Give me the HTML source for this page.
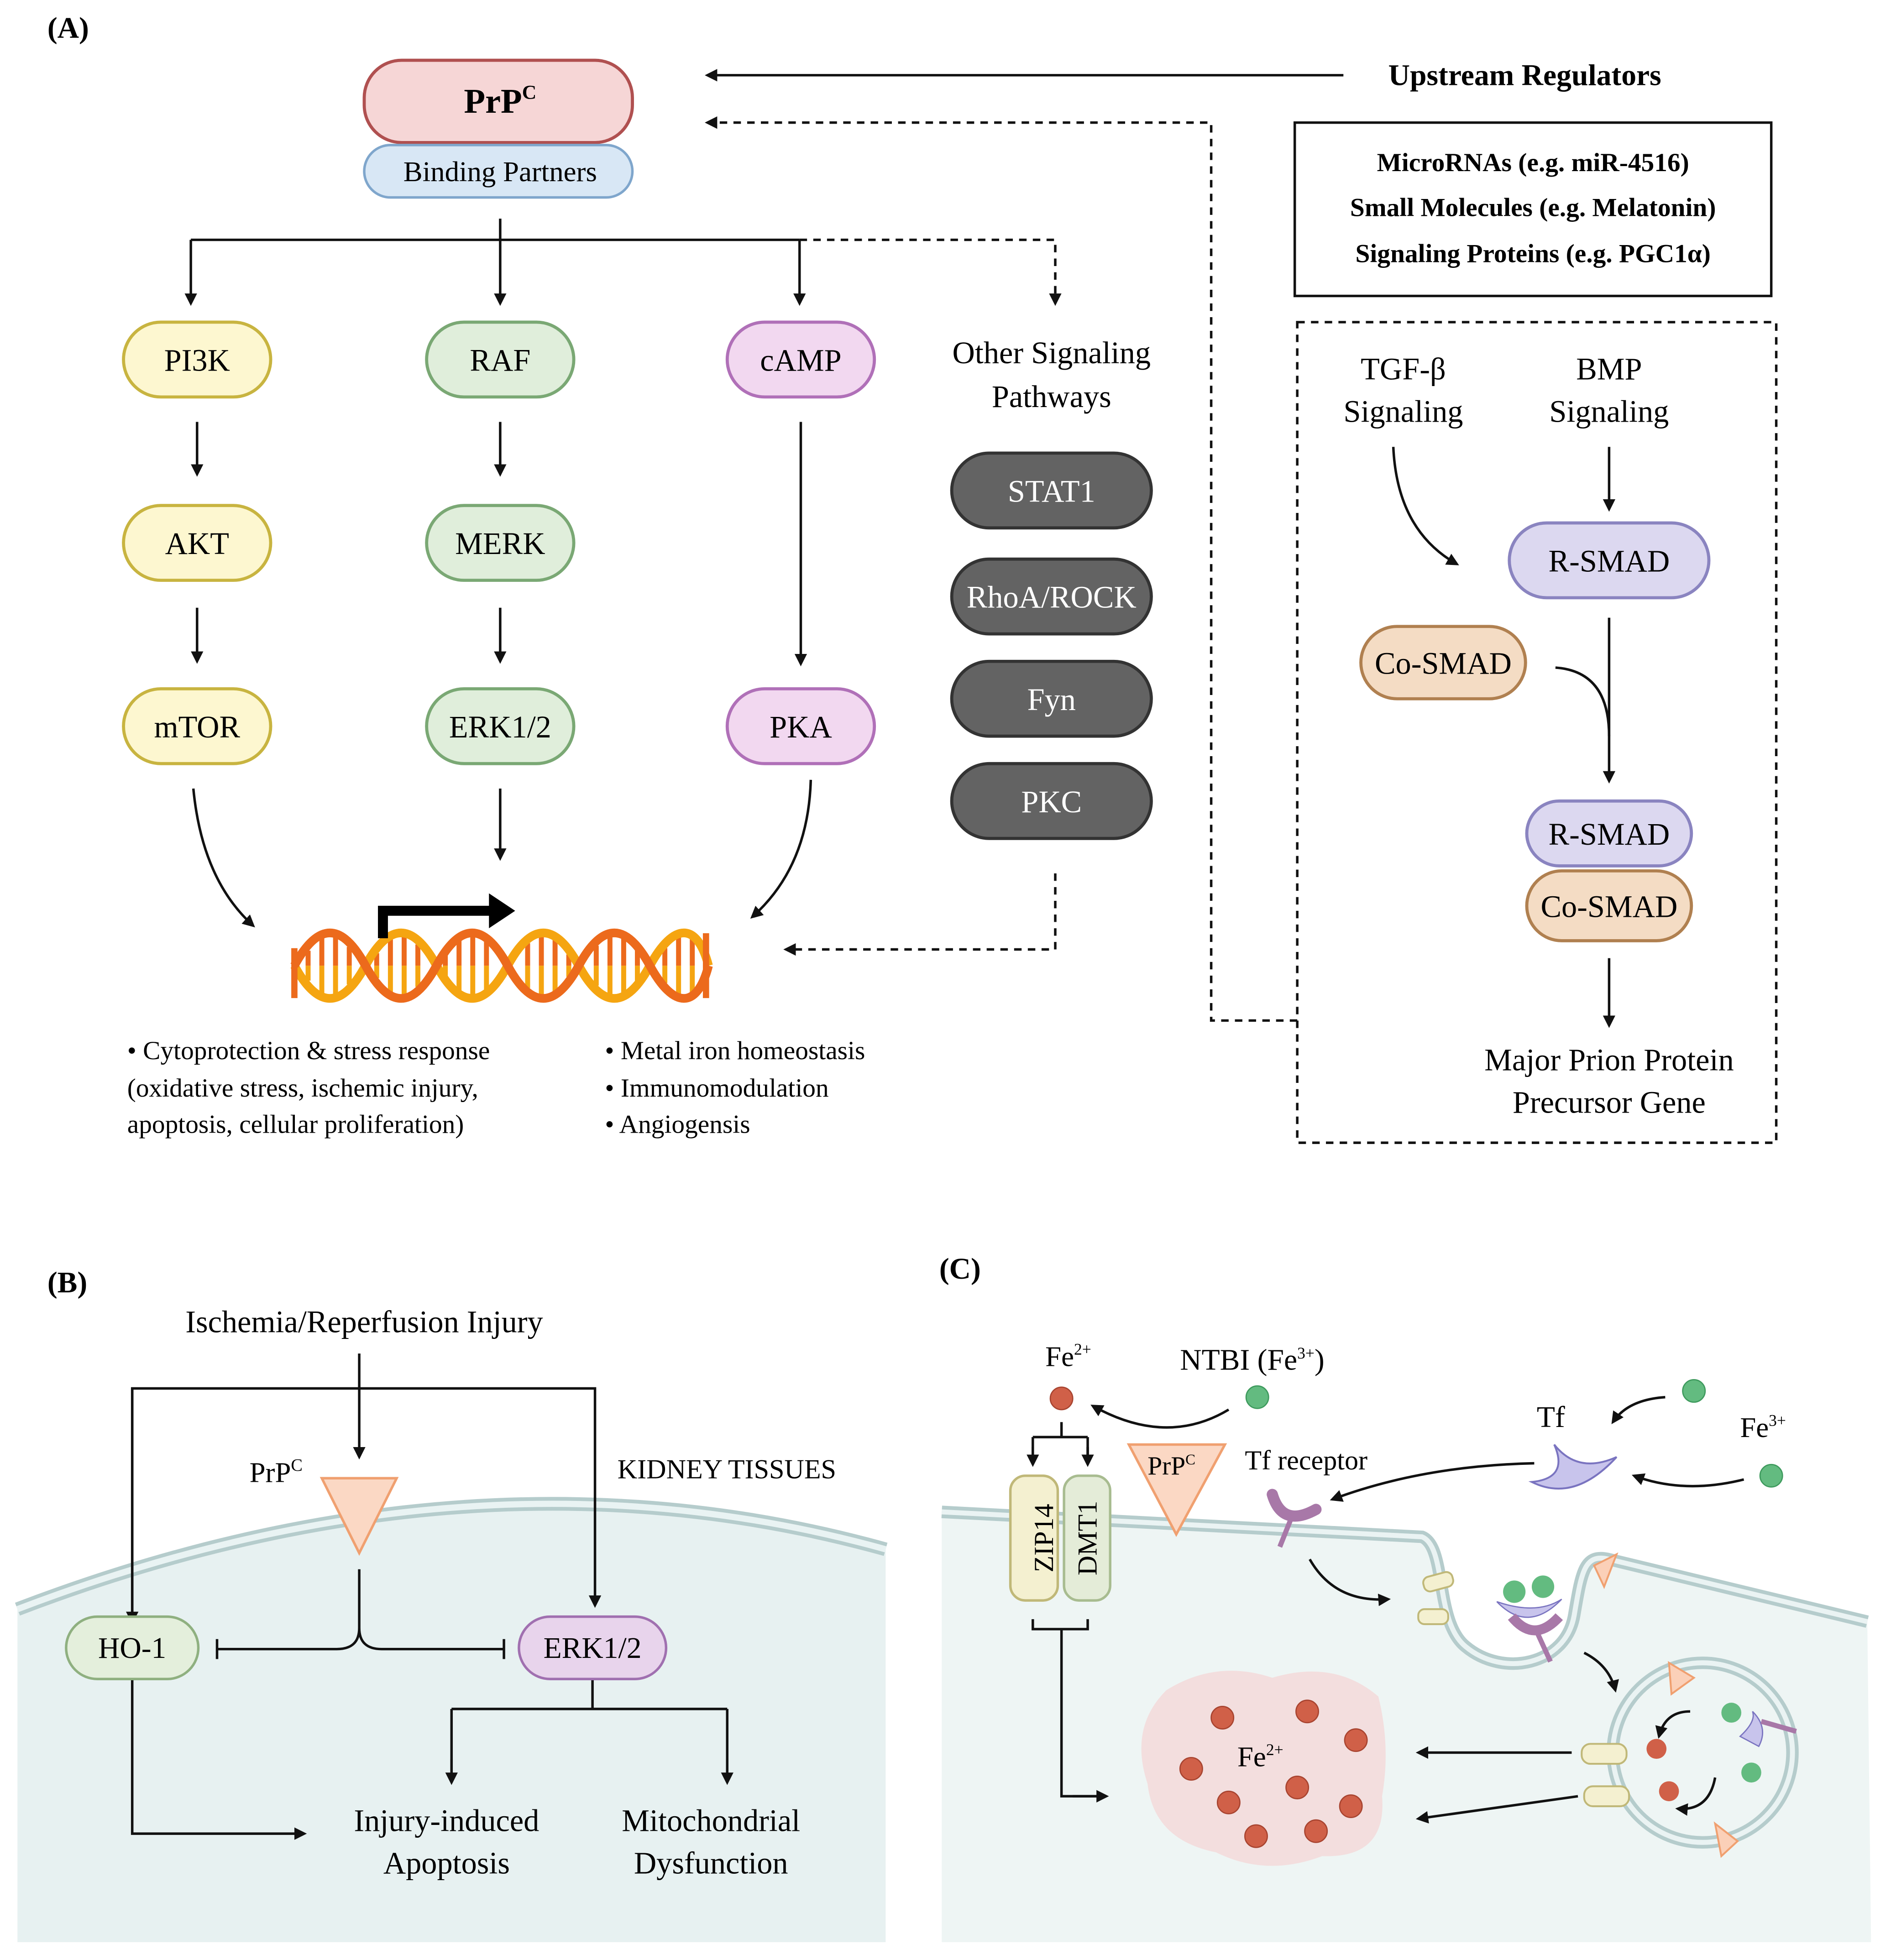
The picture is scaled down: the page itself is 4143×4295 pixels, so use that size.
<!DOCTYPE html>
<html><head><meta charset="utf-8"><style>html,body{margin:0;padding:0;background:#fff}svg{display:block}svg text{font-family:"Liberation Serif","Times New Roman",serif}</style></head>
<body>
<svg width="4143" height="4295" viewBox="0 0 1516 1571" xmlns="http://www.w3.org/2000/svg" style="font-family:'Liberation Serif',serif">
<defs>
<marker id="ah" markerWidth="10" markerHeight="10" refX="8" refY="5" orient="auto" markerUnits="userSpaceOnUse"><path d="M0,0 L10,5 L0,10 Z" fill="#111"/></marker>
</defs>
<rect width="1516" height="1571" fill="#fff"/>
<g fill="none" stroke="#111" stroke-width="2">
<path d="M401,175 V192 M153,192 H641"/>
<path d="M153,192 V243" marker-end="url(#ah)"/><path d="M401,192 V243" marker-end="url(#ah)"/><path d="M641,192 V243" marker-end="url(#ah)"/>
<path d="M641,192 H846 V243" stroke-dasharray="6,5" marker-end="url(#ah)"/>
<path d="M158,338 V380" marker-end="url(#ah)"/><path d="M158,487 V530" marker-end="url(#ah)"/>
<path d="M401,338 V380" marker-end="url(#ah)"/><path d="M401,487 V530" marker-end="url(#ah)"/>
<path d="M642,338 V532" marker-end="url(#ah)"/>
<path d="M155,632 Q162,705 203,742" marker-end="url(#ah)"/>
<path d="M401,632 V688" marker-end="url(#ah)"/>
<path d="M650,625 Q648,695 603,735" marker-end="url(#ah)"/>
<path d="M846,700 V761 H630" stroke-dasharray="6,5" marker-end="url(#ah)"/>
<path d="M1077,60 H567" marker-end="url(#ah)"/>
<path d="M1040,818 H971 V98 H567" stroke-dasharray="6,5" marker-end="url(#ah)"/>
<rect x="1038" y="98" width="382" height="139" stroke-width="2"/>
<rect x="1040" y="258" width="384" height="658" stroke-dasharray="6,5"/>
<path d="M1117,358 Q1120,425 1168,452" marker-end="url(#ah)"/>
<path d="M1290,358 V408" marker-end="url(#ah)"/>
<path d="M1290,495 V626" marker-end="url(#ah)"/>
<path d="M1247,535 Q1290,538 1290,590"/>
<path d="M1290,768 V822" marker-end="url(#ah)"/>
</g>
<rect x="292" y="48" width="215" height="66" rx="30" fill="#f6d6d6" stroke="#b05050" stroke-width="2.5"/>
<rect x="292" y="116" width="215" height="42" rx="21" fill="#d8e7f5" stroke="#7fa6cc" stroke-width="2"/>
<text x="401" y="90" font-size="28" font-weight="bold" text-anchor="middle">PrP<tspan font-size="16" dy="-11">C</tspan></text>
<text x="401" y="145" font-size="23" text-anchor="middle">Binding Partners</text>
<g stroke-width="2.5" font-size="25" text-anchor="middle">
<rect x="99" y="258" width="118" height="60" rx="30" fill="#fdf7d0" stroke="#c8b440"/>
<rect x="99" y="405" width="118" height="60" rx="30" fill="#fdf7d0" stroke="#c8b440"/>
<rect x="99" y="552" width="118" height="60" rx="30" fill="#fdf7d0" stroke="#c8b440"/>
<rect x="342" y="258" width="118" height="60" rx="30" fill="#e0eedb" stroke="#7aa874"/>
<rect x="342" y="405" width="118" height="60" rx="30" fill="#e0eedb" stroke="#7aa874"/>
<rect x="342" y="552" width="118" height="60" rx="30" fill="#e0eedb" stroke="#7aa874"/>
<rect x="583" y="258" width="118" height="60" rx="30" fill="#f2d8f0" stroke="#b070b8"/>
<rect x="583" y="552" width="118" height="60" rx="30" fill="#f2d8f0" stroke="#b070b8"/>
<text x="158" y="297">PI3K</text><text x="158" y="444">AKT</text><text x="158" y="591">mTOR</text>
<text x="401" y="297">RAF</text><text x="401" y="444">MERK</text><text x="401" y="591">ERK1/2</text>
<text x="642" y="297">cAMP</text><text x="642" y="591">PKA</text>
<rect x="763" y="363" width="160" height="60" rx="30" fill="#636363" stroke="#333"/>
<rect x="763" y="448" width="160" height="60" rx="30" fill="#636363" stroke="#333"/>
<rect x="763" y="530" width="160" height="60" rx="30" fill="#636363" stroke="#333"/>
<rect x="763" y="612" width="160" height="60" rx="30" fill="#636363" stroke="#333"/>
<g fill="#fff"><text x="843" y="402">STAT1</text><text x="843" y="487">RhoA/ROCK</text><text x="843" y="569">Fyn</text><text x="843" y="651">PKC</text></g>
<text x="843" y="291">Other Signaling</text><text x="843" y="326">Pathways</text>
<text x="1125" y="304">TGF-β</text><text x="1125" y="338">Signaling</text>
<text x="1290" y="304">BMP</text><text x="1290" y="338">Signaling</text>
<rect x="1210" y="419" width="160" height="60" rx="30" fill="#dcd8f0" stroke="#8a84c0"/>
<text x="1290" y="458">R-SMAD</text>
<rect x="1091" y="502" width="132" height="58" rx="29" fill="#f4dcc4" stroke="#b08050"/>
<text x="1157" y="540">Co-SMAD</text>
<rect x="1224" y="642" width="132" height="52" rx="26" fill="#dcd8f0" stroke="#8a84c0"/>
<text x="1290" y="677">R-SMAD</text>
<rect x="1224" y="698" width="132" height="56" rx="28" fill="#f4dcc4" stroke="#b08050"/>
<text x="1290" y="735">Co-SMAD</text>
<text x="1290" y="858">Major Prion Protein</text><text x="1290" y="892">Precursor Gene</text>
</g>
<text x="38" y="30" font-size="24" font-weight="bold">(A)</text>
<text x="1113" y="68" font-size="24" font-weight="bold">Upstream Regulators</text>
<g font-size="21" font-weight="bold" text-anchor="middle">
<text x="1229" y="137">MicroRNAs (e.g. miR-4516)</text>
<text x="1229" y="173">Small Molecules (e.g. Melatonin)</text>
<text x="1229" y="210">Signaling Proteins (e.g. PGC1α)</text>
</g>
<g stroke-width="4">
<g stroke="#ec6a1c">
<path d="M247,762V774M258,752V774M269,751V774M280,759V774M302,764V774M313,753V774M324,750V774M335,757V774M357,766V774M368,754V774M379,750V774M390,755V774M423,756V774M434,750V774M445,753V774M456,765V774M478,758V774M489,750V774M500,752V774M511,762V774M533,760V774M544,751V774M555,751V774"/>
</g>
<g stroke="#f5a511">
<path d="M247,786V774M258,796V774M269,797V774M280,789V774M302,784V774M313,795V774M324,798V774M335,791V774M357,782V774M368,794V774M379,798V774M390,793V774M423,792V774M434,798V774M445,795V774M456,783V774M478,790V774M489,798V774M500,796V774M511,786V774M533,788V774M544,797V774M555,797V774"/>
</g>
</g>
<path d="M236,774 C255,809 274,809 293,774 S331,739 350,774 S388,809 407,774 S445,739 464,774 S502,809 521,774 S559,739 568,774" fill="none" stroke="#f5a511" stroke-width="7"/>
<path d="M236,774 C255,739 274,739 293,774 S331,809 350,774 S388,739 407,774 S445,809 464,774 S502,739 521,774 S559,809 568,774" fill="none" stroke="#ec6a1c" stroke-width="7"/>
<path d="M236,760V800M566,748V800" stroke="#ec6a1c" stroke-width="5"/>
<path d="M307,752 V730 H395" fill="none" stroke="#000" stroke-width="8"/>
<path d="M392,716 L413,730 L392,744 Z" fill="#000"/>
<g font-size="21">
<text x="102" y="849">• Cytoprotection &amp; stress response</text>
<text x="102" y="879">(oxidative stress, ischemic injury,</text>
<text x="102" y="908">apoptosis, cellular proliferation)</text>
<text x="485" y="849">• Metal iron homeostasis</text>
<text x="485" y="879">• Immunomodulation</text>
<text x="485" y="908">• Angiogensis</text>
</g>
<path d="M14,1290 Q380,1150 710,1242 L710,1557 L14,1557 Z" fill="#e7f1f1"/>
<path d="M14,1290 Q380,1150 710,1242" fill="none" stroke="#b5cccc" stroke-width="11"/>
<path d="M14,1290 Q380,1150 710,1242" fill="none" stroke="#e9f3f3" stroke-width="5"/>
<text x="38" y="1036" font-size="24" font-weight="bold">(B)</text>
<text x="292" y="1068" font-size="25" text-anchor="middle">Ischemia/Reperfusion Injury</text>
<g fill="none" stroke="#111" stroke-width="2">
<path d="M288,1085 V1168" marker-end="url(#ah)"/>
<path d="M106,1300 V1113 H477 V1287" marker-end="url(#ah)"/>
<path d="M106,1113 V1300" marker-end="url(#ah)"/>
<path d="M288,1258 V1305 Q288,1322 270,1322 H174 M288,1305 Q288,1322 306,1322 H404 M174,1314 V1330 M404,1314 V1330"/>
<path d="M106,1345 V1470 H244" marker-end="url(#ah)"/>
<path d="M475,1345 V1370 M362,1370 H583 M362,1370 V1429 M583,1370 V1429"/>
<path d="M362,1410 V1429" marker-end="url(#ah)"/><path d="M583,1410 V1429" marker-end="url(#ah)"/>
</g>
<polygon points="258,1185 318,1185 288,1245" fill="#fbd8c4" stroke="#f0a070" stroke-width="2"/>
<text x="200" y="1188" font-size="23">PrP<tspan font-size="14" dy="-9">C</tspan></text>
<text x="495" y="1185" font-size="22">KIDNEY TISSUES</text>
<rect x="53" y="1296" width="106" height="50" rx="25" fill="#e4efdc" stroke="#8fb080" stroke-width="2"/>
<text x="106" y="1329" font-size="24" text-anchor="middle">HO-1</text>
<rect x="416" y="1296" width="118" height="50" rx="25" fill="#e8d4ec" stroke="#a070b0" stroke-width="2"/>
<text x="475" y="1329" font-size="24" text-anchor="middle">ERK1/2</text>
<g font-size="25" text-anchor="middle">
<text x="358" y="1468">Injury-induced</text><text x="358" y="1502">Apoptosis</text>
<text x="570" y="1468">Mitochondrial</text><text x="570" y="1502">Dysfunction</text>
</g>
<path d="M755,1212 L1140,1232 C1160,1240 1150,1300 1175,1320 C1205,1345 1255,1335 1262,1295 C1268,1260 1270,1245 1290,1250 L1497,1300 L1500,1557 L755,1557 Z" fill="#eef5f4"/>
<path d="M755,1212 L1140,1232 C1160,1240 1150,1300 1175,1320 C1205,1345 1255,1335 1262,1295 C1268,1260 1270,1245 1290,1250 L1497,1300" fill="none" stroke="#b5cccc" stroke-width="10"/>
<path d="M755,1212 L1140,1232 C1160,1240 1150,1300 1175,1320 C1205,1345 1255,1335 1262,1295 C1268,1260 1270,1245 1290,1250 L1497,1300" fill="none" stroke="#eaf3f3" stroke-width="4"/>
<circle cx="1365" cy="1405" r="72" fill="none" stroke="#b5cccc" stroke-width="10"/>
<circle cx="1365" cy="1405" r="72" fill="none" stroke="#eaf3f3" stroke-width="4"/>
<text x="753" y="1025" font-size="24" font-weight="bold">(C)</text>
<text x="838" y="1095" font-size="23">Fe<tspan font-size="13" dy="-9">2+</tspan></text>
<text x="946" y="1098" font-size="24">NTBI (Fe<tspan font-size="13" dy="-9">3+</tspan><tspan dy="9">)</tspan></text>
<text x="1232" y="1144" font-size="24">Tf</text>
<text x="1395" y="1152" font-size="23">Fe<tspan font-size="13" dy="-9">3+</tspan></text>
<text x="998" y="1178" font-size="22">Tf receptor</text>
<circle cx="851" cy="1121" r="9" fill="#d06048" stroke="#a84430"/>
<g fill="#63bb80" stroke="#3e9a5d" stroke-width="1">
<circle cx="1008" cy="1120" r="9"/><circle cx="1358" cy="1115" r="9"/><circle cx="1420" cy="1183" r="9"/>
</g>
<g fill="none" stroke="#111" stroke-width="2">
<path d="M985,1130 Q935,1160 876,1127" marker-end="url(#ah)"/>
<path d="M851,1140 V1152 M828,1152 H872 M828,1152 V1174 M872,1152 V1174"/>
<path d="M828,1160 V1174" marker-end="url(#ah)"/><path d="M872,1160 V1174" marker-end="url(#ah)"/>
<path d="M1335,1120 Q1305,1122 1293,1140" marker-end="url(#ah)"/>
<path d="M1398,1186 Q1350,1198 1310,1183" marker-end="url(#ah)"/>
<path d="M1230,1173 Q1140,1175 1068,1202" marker-end="url(#ah)"/>
<path d="M1050,1250 Q1070,1285 1113,1282" marker-end="url(#ah)"/>
<path d="M1270,1325 Q1290,1335 1295,1355" marker-end="url(#ah)"/>
<path d="M828,1298 V1306 H872 V1298 M851,1306 V1440 H887"/>
<path d="M860,1440 H887" marker-end="url(#ah)"/>
<path d="M1260,1405 H1137" marker-end="url(#ah)"/>
<path d="M1265,1440 L1137,1458" marker-end="url(#ah)"/>
<path d="M1355,1372 Q1335,1372 1330,1392" marker-end="url(#ah)"/>
<path d="M1375,1425 Q1370,1452 1345,1450" marker-end="url(#ah)"/>
</g>
<rect x="810" y="1183" width="38" height="100" rx="12" fill="#f4f0d0" stroke="#c0b878" stroke-width="2"/>
<rect x="853" y="1183" width="37" height="100" rx="12" fill="#e4ecd8" stroke="#a8bc90" stroke-width="2"/>
<text transform="translate(837,1233) rotate(-90)" font-size="22" text-anchor="middle" dominant-baseline="central">ZIP14</text>
<text transform="translate(872,1233) rotate(-90)" font-size="22" text-anchor="middle" dominant-baseline="central">DMT1</text>
<polygon points="905,1158 982,1158 943,1230" fill="#fbd8c4" stroke="#f0a070" stroke-width="2"/>
<text x="920" y="1182" font-size="21">PrP<tspan font-size="12" dy="-8">C</tspan></text>
<path d="M1020,1198 Q1028,1225 1055,1210" fill="none" stroke="#a878a8" stroke-width="9" stroke-linecap="round"/>
<path d="M1036,1215 L1026,1240" stroke="#a878a8" stroke-width="4"/>
<path d="M1246,1158 Q1258,1185 1228,1188 Q1262,1205 1296,1168 Q1265,1182 1246,1158 Z" fill="#c8c4ec" stroke="#7a74c0" stroke-width="1.5"/>
<circle cx="1214" cy="1276" r="9" fill="#63bb80"/><circle cx="1237" cy="1272" r="9" fill="#63bb80"/>
<path d="M1200,1284 Q1225,1310 1252,1282 Q1232,1295 1200,1284 Z" fill="#c8c4ec" stroke="#7a74c0"/>
<path d="M1212,1296 Q1230,1318 1250,1296" fill="none" stroke="#a878a8" stroke-width="8"/>
<path d="M1232,1308 L1243,1332" stroke="#a878a8" stroke-width="4"/>
<g fill="#f4f0d0" stroke="#c0b878" stroke-width="1.5">
<rect x="1141" y="1262" width="24" height="12" rx="5" transform="rotate(-15 1153 1268)"/>
<rect x="1137" y="1290" width="24" height="12" rx="5"/>
<rect x="1268" y="1398" width="36" height="16" rx="7"/>
<rect x="1270" y="1432" width="36" height="16" rx="7"/>
</g>
<g fill="#fbd0b8" stroke="#f0a070" stroke-width="1.5">
<polygon points="1278,1255 1296,1246 1286,1272"/>
<polygon points="1338,1333 1358,1345 1340,1358"/>
<polygon points="1375,1462 1393,1476 1380,1488"/>
</g>
<circle cx="1388" cy="1373" r="8" fill="#63bb80"/><circle cx="1404" cy="1421" r="8" fill="#63bb80"/>
<circle cx="1328" cy="1402" r="8" fill="#d06048"/><circle cx="1338" cy="1436" r="8" fill="#d06048"/>
<path d="M1395,1392 Q1408,1380 1405,1372 Q1418,1385 1410,1400 Z" fill="#c8c4ec" stroke="#7a74c0"/>
<path d="M1412,1380 L1440,1388" stroke="#a878a8" stroke-width="4"/>
<path d="M935,1355 Q975,1330 1020,1345 Q1070,1330 1105,1360 Q1115,1400 1108,1440 Q1112,1490 1060,1488 Q1015,1505 975,1485 Q925,1475 920,1430 Q905,1385 935,1355 Z" fill="#f3dede"/>
<text x="992" y="1416" font-size="23">Fe<tspan font-size="13" dy="-9">2+</tspan></text>
<g fill="#d06048" stroke="#a84430" stroke-width="1">
<circle cx="980" cy="1377" r="9"/><circle cx="1048" cy="1372" r="9"/><circle cx="1087" cy="1395" r="9"/>
<circle cx="955" cy="1418" r="9"/><circle cx="1040" cy="1433" r="9"/><circle cx="985" cy="1445" r="9"/>
<circle cx="1083" cy="1448" r="9"/><circle cx="1007" cy="1472" r="9"/><circle cx="1055" cy="1468" r="9"/>
</g>
</svg>
</body></html>
